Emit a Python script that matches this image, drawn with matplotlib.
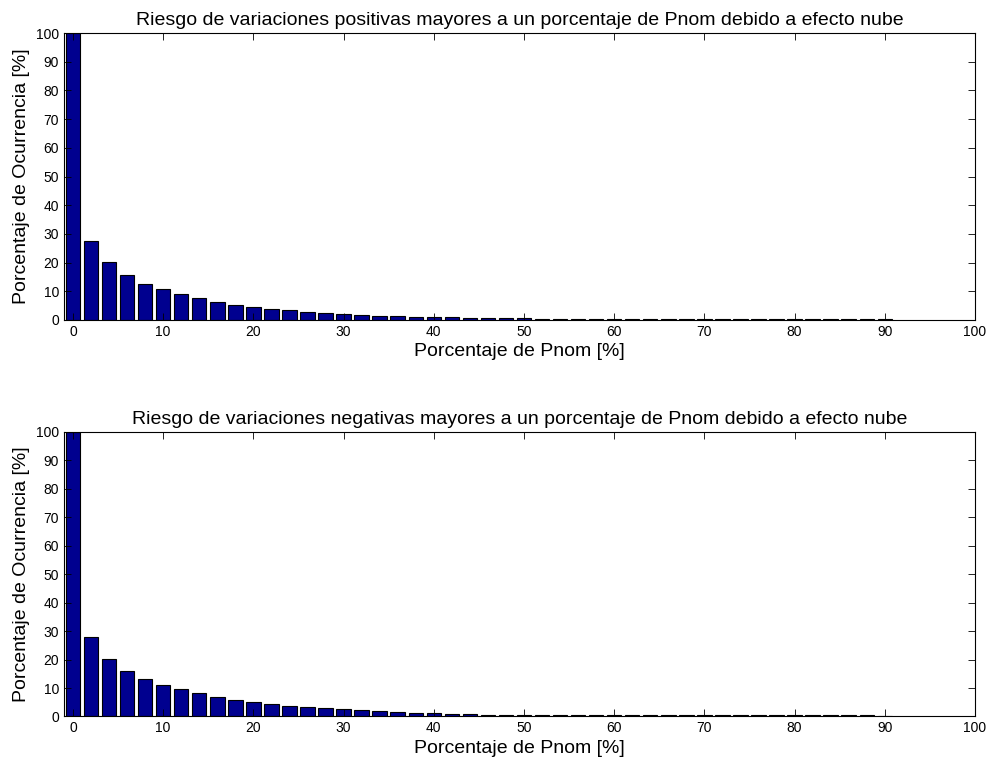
import numpy as np
import matplotlib.pyplot as plt

plt.rcParams['font.family'] = ['Liberation Sans', 'DejaVu Sans']

# porcentaje de Pnom (centros de barra)
pnom = np.arange(0, 92, 2)

# riesgo de variaciones positivas [%]
riesgo_pos = [100, 27.5, 20.1, 15.6, 12.7, 10.7, 8.9, 7.5, 6.1, 5.2,
              4.4, 3.7, 3.4, 2.8, 2.4, 2.0, 1.7, 1.4, 1.4, 1.1,
              1.0, 1.0, 0.8, 0.7, 0.7, 0.6, 0.45, 0.4, 0.4, 0.4,
              0.35, 0.35, 0.35, 0.35, 0.35, 0.35, 0.35, 0.35, 0.35, 0.35,
              0.35, 0.35, 0.35, 0.35, 0.35, 0.35]

# riesgo de variaciones negativas [%]
riesgo_neg = [100, 27.9, 20.3, 16.1, 13.0, 10.9, 9.6, 8.1, 6.7, 5.8,
              5.0, 4.3, 3.7, 3.3, 3.0, 2.6, 2.3, 1.9, 1.5, 1.2,
              1.1, 1.0, 1.0, 0.7, 0.6, 0.6, 0.6, 0.6, 0.4, 0.4,
              0.35, 0.35, 0.35, 0.35, 0.35, 0.35, 0.35, 0.35, 0.35, 0.35,
              0.35, 0.35, 0.35, 0.35, 0.35, 0.0]

titulos = ["Riesgo de variaciones positivas mayores a un porcentaje de Pnom debido a efecto nube",
           "Riesgo de variaciones negativas mayores a un porcentaje de Pnom debido a efecto nube"]

fig = plt.figure(figsize=(9.87, 7.59), dpi=100)
ax1 = fig.add_axes([0.0648, 0.5784, 0.923, 0.378])
ax2 = fig.add_axes([0.0648, 0.056, 0.923, 0.375])

for ax, vals, tit in zip([ax1, ax2], [riesgo_pos, riesgo_neg], titulos):
    ax.bar(pnom, vals, width=1.6, color='#00008f', edgecolor='black', linewidth=0.8)
    ax.set_xlim(-1, 100)
    ax.set_ylim(0, 100)
    ax.set_xticks(np.arange(0, 101, 10))
    ax.set_yticks(np.arange(0, 101, 10))
    ax.tick_params(direction='in', top=True, right=True, labelsize=10, length=5, width=0.6)
    for s in ax.spines.values():
        s.set_linewidth(0.8)
    ax.set_title(tit, fontsize=14, pad=6)
    ax.set_xlabel("Porcentaje de Pnom [%]", fontsize=14, labelpad=3)
    ax.set_ylabel("Porcentaje de Ocurrencia [%]", fontsize=14, labelpad=4)

plt.savefig("out.png", dpi=100)
